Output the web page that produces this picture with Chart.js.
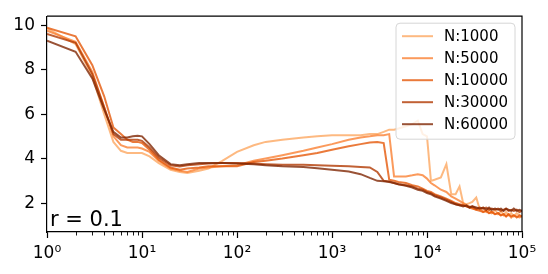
<!DOCTYPE html>
<html>
<head>
<meta charset="utf-8">
<script src="https://cdn.jsdelivr.net/npm/chart.js@4/dist/chart.umd.min.js"></script>
<style>
  html, body { margin: 0; padding: 0; background: #fff; }
  canvas { display: block; }
</style>
</head>
<body>
<canvas id="grafico" width="548" height="274"></canvas>
<script>
// x positions (shared by all curves)
const xs = [1, 2, 3, 4, 5, 6, 7, 8, 9, 10,
  12, 15, 20, 25, 30, 40, 50, 70,
  100, 150, 200, 300, 500, 700,
  1000, 1500, 2000, 2500, 3000, 3500, 4000, 4500, 5000, 6000, 7000, 8000, 9000,
  10000, 11000, 12000, 14000, 16000, 18000,
  20000, 22000, 24000, 26000, 28000, 30000, 33000, 36000, 39000, 42000, 45000, 48000,
  52000, 56000, 60000, 64000, 68000, 72000, 77000, 82000, 88000, 94000, 100000];

const labels = ["N:1000", "N:5000", "N:10000", "N:30000", "N:60000"];

const n1000 = [9.85, 9.15, 7.7, 6.0, 4.75, 4.35, 4.25, 4.25, 4.25, 4.25,
  4.1, 3.8, 3.5, 3.4, 3.35, 3.45, 3.55, 3.9,
  4.3, 4.6, 4.75, 4.85, 4.95, 5.0,
  5.05, 5.05, 5.05, 5.1, 5.1, 5.2, 5.3, 5.3, 5.35, 5.45, 5.55, 5.7, 5.1,
  5.0, 3.0, 3.05, 3.15, 3.75, 2.4,
  2.4, 2.75, 2.0, 1.95, 2.0, 2.05, 2.25, 1.7, 1.8, 1.6, 1.75, 1.55,
  1.7, 1.5, 1.65, 1.45, 1.6, 1.45, 1.55, 1.4, 1.55, 1.45, 1.4];

const n5000 = [9.75, 9.25, 7.9, 6.3, 5.0, 4.6, 4.5, 4.5, 4.5, 4.45,
  4.3, 3.9, 3.55, 3.45, 3.4, 3.55, 3.6, 3.65,
  3.7, 3.9, 4.0, 4.15, 4.35, 4.5,
  4.65, 4.85, 4.95, 5.0, 5.05, 5.05, 5.1, 3.2, 3.2, 3.2, 3.25, 3.3, 3.25,
  3.1, 2.9, 2.8, 2.6, 2.5, 2.3,
  2.2, 2.1, 2.0, 1.9, 1.85, 1.8, 1.7, 1.75, 1.6, 1.65, 1.55, 1.6,
  1.5, 1.55, 1.45, 1.5, 1.4, 1.5, 1.35, 1.45, 1.4, 1.35, 1.4];

const n10000 = [9.88, 9.5, 8.2, 6.8, 5.4, 5.1, 4.85, 4.75, 4.75, 4.7,
  4.4, 3.95, 3.6, 3.5, 3.55, 3.6, 3.65, 3.65,
  3.65, 3.85, 3.9, 4.0, 4.15, 4.25,
  4.4, 4.55, 4.65, 4.72, 4.75, 4.7, 3.05, 3.0, 2.95, 2.9, 2.8, 2.75, 2.65,
  2.55, 2.5, 2.4, 2.3, 2.2, 2.1,
  2.0, 1.95, 1.9, 1.85, 1.8, 1.75, 1.7, 1.65, 1.6, 1.65, 1.55, 1.6,
  1.5, 1.55, 1.45, 1.5, 1.4, 1.5, 1.4, 1.45, 1.35, 1.45, 1.4];

const n30000 = [9.6, 9.2, 7.8, 6.3, 5.1, 4.85, 4.85, 4.85, 4.85, 4.8,
  4.5, 4.05, 3.7, 3.65, 3.7, 3.75, 3.78, 3.8,
  3.8, 3.78, 3.75, 3.72, 3.72, 3.7,
  3.68, 3.65, 3.62, 3.6, 3.4, 3.0, 2.97, 2.9, 2.85, 2.8, 2.75, 2.65, 2.6,
  2.5, 2.45, 2.35, 2.25, 2.15, 2.05,
  1.95, 1.9, 1.9, 1.85, 1.8, 1.85, 1.75, 1.8, 1.75, 1.8, 1.7, 1.75,
  1.7, 1.75, 1.65, 1.7, 1.75, 1.65, 1.7, 1.65, 1.7, 1.6, 1.65];

const n60000 = [9.3, 8.8, 7.6, 6.2, 5.2, 4.95, 4.95, 5.0, 5.03, 5.0,
  4.65, 4.15, 3.75, 3.7, 3.75, 3.8, 3.8, 3.8,
  3.78, 3.75, 3.7, 3.65, 3.62, 3.57,
  3.5, 3.42, 3.3, 3.13, 3.0, 2.98, 2.95, 2.9, 2.85, 2.78, 2.7, 2.6, 2.55,
  2.45, 2.4, 2.3, 2.2, 2.1, 2.0,
  1.95, 1.9, 1.85, 1.9, 1.8, 1.85, 1.8, 1.75, 1.8, 1.7, 1.8, 1.7,
  1.75, 1.7, 1.75, 1.65, 1.75, 1.7, 1.65, 1.75, 1.65, 1.7, 1.65];

const series = [n1000, n5000, n10000, n30000, n60000];
const cores = ["rgba(253,167,98,0.8)", "rgba(250,129,51,0.8)", "rgba(229,89,10,0.8)",
  "rgba(177,58,3,0.8)", "rgba(127,39,4,0.8)"];

const xTicks = [1, 10, 100, 1000, 10000, 100000];
const yTicks = [2, 4, 6, 8, 10];
const sup = ["\u2070", "\u00b9", "\u00b2", "\u00b3", "\u2074", "\u2075"];

const fonte = "'DejaVu Sans', sans-serif";

// ======================
// plugin: moldura, ticks menores, legenda e texto
// ======================
const extras = {
  id: "extras",
  afterDraw(chart) {
    const ctx = chart.ctx;
    const a = chart.chartArea;
    const xScale = chart.scales.x;
    ctx.save();

    // moldura superior/direita
    ctx.strokeStyle = "#000";
    ctx.lineWidth = 1.2;
    ctx.beginPath();
    ctx.moveTo(a.left, a.top);
    ctx.lineTo(a.right, a.top);
    ctx.lineTo(a.right, a.bottom);
    ctx.stroke();

    // ticks menores do eixo log
    ctx.lineWidth = 0.9;
    for (let d = 0; d < 5; d++) {
      for (let k = 2; k <= 9; k++) {
        const px = Math.round(xScale.getPixelForValue(k * Math.pow(10, d))) + 0.5;
        ctx.beginPath();
        ctx.moveTo(px, a.bottom);
        ctx.lineTo(px, a.bottom + 3.5);
        ctx.stroke();
      }
    }

    // texto r = 0.1
    ctx.fillStyle = "#000";
    ctx.font = "21px " + fonte;
    ctx.textAlign = "left";
    ctx.textBaseline = "alphabetic";
    ctx.fillText("r = 0.1", a.left + 3, a.bottom - 6);

    // legenda
    const lw = 119, lh = 116;
    const lx = a.right - 7 - lw, ly = a.top + 7;
    ctx.beginPath();
    ctx.roundRect(lx, ly, lw, lh, 4);
    ctx.fillStyle = "rgba(255,255,255,0.8)";
    ctx.fill();
    ctx.strokeStyle = "#d6d6d6";
    ctx.lineWidth = 1;
    ctx.stroke();

    ctx.font = "15px " + fonte;
    ctx.textBaseline = "middle";
    chart.data.datasets.forEach((ds, i) => {
      const yy = ly + 13 + i * 22;
      ctx.strokeStyle = ds.borderColor;
      ctx.lineWidth = 2;
      ctx.beginPath();
      ctx.moveTo(lx + 6, yy);
      ctx.lineTo(lx + 37, yy);
      ctx.stroke();
      ctx.fillStyle = "#000";
      ctx.fillText(ds.label, lx + 48, yy + 1);
    });

    ctx.restore();
  }
};

const datasets = series.map((ys, i) => ({
  label: labels[i],
  data: xs.map((x, j) => ({ x: x, y: ys[j] })),
  borderColor: cores[i],
  borderWidth: 2,
  pointRadius: 0,
  tension: 0,
  fill: false,
  order: series.length - i
}));

new Chart(document.getElementById("grafico"), {
  type: "line",
  data: { datasets: datasets },
  options: {
    responsive: false,
    animation: false,
    devicePixelRatio: 1,
    layout: { padding: { top: 10, right: 26, left: 0, bottom: 0 } },
    plugins: { legend: { display: false }, tooltip: { enabled: false } },
    scales: {
      x: {
        type: "logarithmic",
        min: 1,
        max: 100000,
        afterBuildTicks: (s) => { s.ticks = xTicks.map(v => ({ value: v, major: true })); },
        afterFit: (s) => { s.height = 42; },
        ticks: {
          color: "#000",
          font: { family: fonte, size: 17 },
          padding: 5,
          maxRotation: 0,
          autoSkip: false,
          callback: (v) => "10" + sup[Math.round(Math.log10(v))]
        },
        grid: { drawOnChartArea: false, drawTicks: true, tickLength: 6, color: "#000", tickWidth: 1.2 },
        border: { display: true, color: "#000", width: 1.2 }
      },
      y: {
        type: "linear",
        min: 0.7,
        max: 10.4,
        afterBuildTicks: (s) => { s.ticks = yTicks.map(v => ({ value: v })); },
        afterFit: (s) => { s.width = 47; },
        ticks: {
          color: "#000",
          font: { family: fonte, size: 17 },
          padding: 6
        },
        grid: { drawOnChartArea: false, drawTicks: true, tickLength: 6, color: "#000", tickWidth: 1.2 },
        border: { display: true, color: "#000", width: 1.2 }
      }
    }
  },
  plugins: [extras]
});
</script>
</body>
</html>
